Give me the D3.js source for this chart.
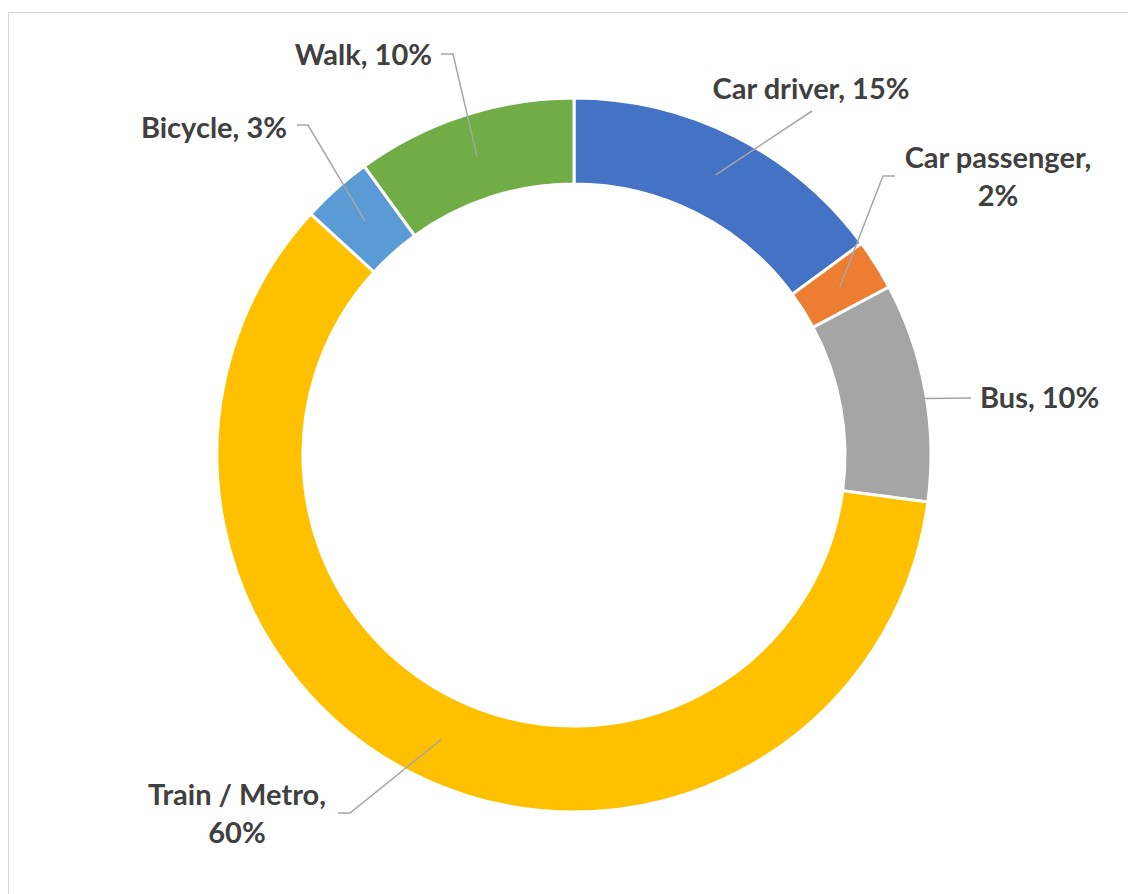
<!DOCTYPE html>
<html>
<head>
<meta charset="utf-8">
<script src="https://cdn.jsdelivr.net/npm/d3@7"></script>
<style>
  html, body { margin: 0; padding: 0; background: #ffffff; }
  svg { display: block; }
</style>
</head>
<body>
<svg id="chart" width="1128" height="894"></svg>
<script>
// ---- data ----
const categories = ["Car driver", "Car passenger", "Bus", "Train / Metro", "Bicycle", "Walk"];
const shares = [14.9, 2.3, 9.9, 59.7, 3.2, 10.0];
const labelPercents = ["15%", "2%", "10%", "60%", "3%", "10%"];
const colors = ["#4472C4", "#ED7D31", "#A5A5A5", "#FFC000", "#5B9BD5", "#70AD47"];

// ---- layout (label placement) ----
const labelLayout = [
  { lines: ["Car driver, 15%"], tx: 811, ty: 99, anchor: "middle", lead: [[812, 111], [812, 111]] },
  { lines: ["Car passenger,", "2%"], tx: 998, ty: 168, anchor: "middle", lead: [[895, 176], [883, 176]] },
  { lines: ["Bus, 10%"], tx: 980, ty: 408, anchor: "start", lead: [[971, 398], [971, 398]] },
  { lines: ["Train / Metro,", "60%"], tx: 237, ty: 805, anchor: "middle", lead: [[338, 813], [350, 813]] },
  { lines: ["Bicycle, 3%"], tx: 287, ty: 138, anchor: "end", lead: [[297, 125], [308, 125]] },
  { lines: ["Walk, 10%"], tx: 432, ty: 65, anchor: "end", lead: [[441, 54], [453, 54]] }
];

const svg = d3.select("#chart");
const W = 1128, H = 894;
const cx = 574, cy = 455, R = 357, r = 271;

// chart frame
svg.append("rect")
  .attr("x", 8.5).attr("y", 12.5)
  .attr("width", W + 10).attr("height", H + 10)
  .attr("fill", "#ffffff").attr("stroke", "#D9D9D9").attr("stroke-width", 1);

const data = categories.map((c, i) => ({ name: c, value: shares[i], color: colors[i], pct: labelPercents[i], layout: labelLayout[i] }));

const pie = d3.pie().value(d => d.value).sort(null).startAngle(0).endAngle(2 * Math.PI);
const arc = d3.arc().innerRadius(r).outerRadius(R);
const arcs = pie(data);

const g = svg.append("g").attr("transform", `translate(${cx},${cy})`);

g.selectAll("path.slice")
  .data(arcs)
  .join("path")
  .attr("class", "slice")
  .attr("d", arc)
  .attr("fill", d => d.data.color)
  .attr("stroke", "#ffffff")
  .attr("stroke-width", 3)
  .attr("stroke-linejoin", "miter");

// leader lines
const leaders = svg.append("g");
arcs.forEach(a => {
  const c = arc.centroid(a);
  const end = [cx + c[0], cy + c[1]];
  const L = a.data.layout.lead;
  leaders.append("polyline")
    .attr("points", [L[0], L[1], end].map(p => p.join(",")).join(" "))
    .attr("fill", "none")
    .attr("stroke", "#A6A6A6")
    .attr("stroke-width", 1.5);
});

// labels
const labels = svg.append("g")
  .attr("font-family", "Lato, 'Open Sans', sans-serif")
  .attr("font-weight", "bold")
  .attr("font-size", 29)
  .attr("fill", "#404040");

arcs.forEach(a => {
  const lay = a.data.layout;
  const t = labels.append("text")
    .attr("x", lay.tx).attr("y", lay.ty)
    .attr("text-anchor", lay.anchor);
  lay.lines.forEach((ln, i) => {
    t.append("tspan").attr("x", lay.tx).attr("dy", i === 0 ? 0 : 38).text(ln);
  });
});
</script>
</body>
</html>
